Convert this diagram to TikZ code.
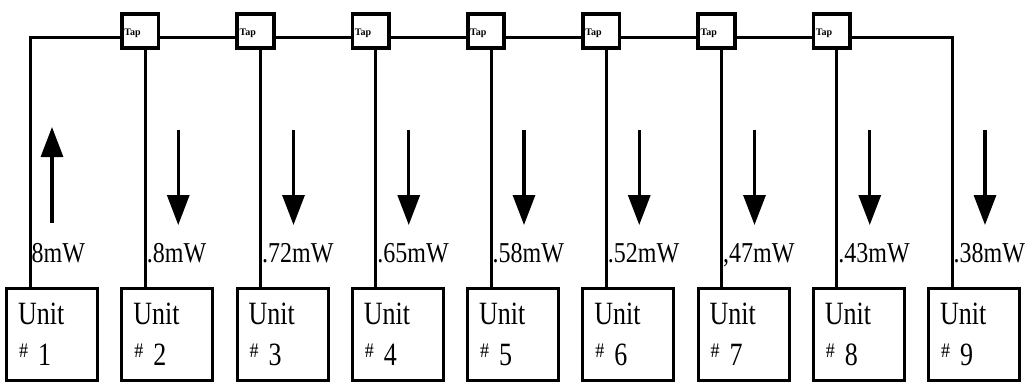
\documentclass[tikz,border=0pt]{standalone}
\usepackage{fontspec}
\usepackage{graphicx}
\setmainfont{Liberation Serif}
\usetikzlibrary{arrows.meta}
\newcommand{\labfont}{\fontsize{24}{24}\selectfont}
\newcommand{\ufont}{\fontsize{26}{26}\selectfont}
\begin{document}
\begin{tikzpicture}[x=1pt,y=-1pt,
  wire/.style={line width=3pt,line join=miter},
  tapbox/.style={draw,line width=3.8pt,fill=white,minimum width=36.5pt,minimum height=33.5pt,inner sep=0pt},
  unitbox/.style={draw,line width=3.2pt,minimum width=91pt,minimum height=92pt,inner sep=0pt},
  flow/.style={line width=3.2pt,-{Triangle[width=22pt,length=30pt]}},
  taptext/.style={font=\fontsize{10}{10}\selectfont\bfseries,inner sep=0pt,anchor=west},
  labtext/.style={inner sep=0pt,anchor=base west},
]
\useasboundingbox (0,0) rectangle (1031,391);
% units, wire points, texts
\foreach \k/\t in {1/8mW,2/.8mW,3/.72mW,4/.65mW,5/.58mW,6/.52mW,7/{,47mW},8/.43mW,9/.38mW}{
  \pgfmathsetmacro\L{5+115.25*(\k-1)}
  \node[unitbox,anchor=north west] (u\k) at (\L,287) {};
  \coordinate (p\k) at (\L+25,37);
  \node[labtext] (ut\k) at (\L+13,324) {\ufont\scalebox{1}[1.25]{Unit}};
  \node[labtext] (un\k) at (\L+14,365) {\raisebox{8pt}{\fontsize{18}{18}\selectfont\scalebox{1}[1.15]{\#}}\hspace{10pt}\ufont\scalebox{1}[1.25]{\k}};
  \node[labtext] (lab\k) at (\L+26.5,262) {\labfont\scalebox{1}[1.2]{\t}};
}
% taps
\foreach \k in {2,...,8}{
  \pgfmathsetmacro\L{5+115.25*(\k-1)}
  \node[tapbox] (t\k) at (\L+20,31) {};
  \node[taptext] (tt\k) at ([xshift=4pt,yshift=-2pt]t\k.west) {Tap};
  \draw[wire] (t\k.south -| p\k) -- (p\k |- u\k.north);
}
% main line
\draw[wire] (p1 |- u1.north) -- (p1) -- (t2.west |- p1);
\foreach \k [evaluate=\k as \n using int(\k+1)] in {2,...,7}{
  \draw[wire] (t\k.east |- p1) -- (t\n.west |- p1);
}
\draw[wire] (t8.east |- p1) -- (p9) -- (p9 |- u9.north);
% power flow arrows
\draw[flow] (52,223) -- (52,127);
\foreach \k in {2,...,9}{
  \pgfmathsetmacro\X{5+115.25*(\k-1)+58}
  \draw[flow] (\X,130) -- (\X,225);
}
\end{tikzpicture}
\end{document}
